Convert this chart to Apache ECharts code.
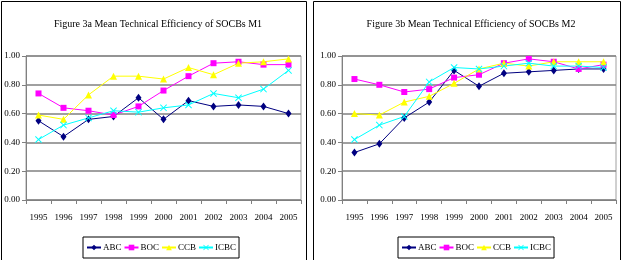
<!DOCTYPE html>
<html lang="en">
<head>
    <meta charset="UTF-8">
    <title>Mean Technical Efficiency of SOCBs</title>
    <script src="https://cdn.jsdelivr.net/npm/echarts@6/dist/echarts.min.js"></script>
    <style>
        body { margin: 0; background: #fff; }
    </style>
</head>
<body>
<div id="main" style="width: 623px;height:260px;"></div>
</body>
<script>
    var years = ['1995','1996','1997','1998','1999','2000','2001','2002','2003','2004','2005'];
    var banks = ['ABC','BOC','CCB','ICBC'];
    var yTicks = [0, 0.2, 0.4, 0.6, 0.8, 1.0];

    // Figure 3a, model M1
    var abcM1  = [0.55, 0.44, 0.56, 0.58, 0.71, 0.56, 0.69, 0.65, 0.66, 0.65, 0.60];
    var bocM1  = [0.74, 0.64, 0.62, 0.59, 0.65, 0.76, 0.86, 0.95, 0.96, 0.94, 0.94];
    var ccbM1  = [0.59, 0.56, 0.73, 0.86, 0.86, 0.84, 0.92, 0.87, 0.95, 0.96, 0.98];
    var icbcM1 = [0.42, 0.52, 0.57, 0.62, 0.61, 0.64, 0.66, 0.74, 0.71, 0.77, 0.90];

    // Figure 3b, model M2
    var abcM2  = [0.33, 0.39, 0.57, 0.68, 0.90, 0.79, 0.88, 0.89, 0.90, 0.91, 0.91];
    var bocM2  = [0.84, 0.80, 0.75, 0.77, 0.85, 0.87, 0.95, 0.98, 0.96, 0.91, 0.94];
    var ccbM2  = [0.60, 0.59, 0.68, 0.72, 0.81, 0.91, 0.95, 0.93, 0.96, 0.96, 0.96];
    var icbcM2 = [0.42, 0.52, 0.58, 0.82, 0.92, 0.91, 0.93, 0.95, 0.93, 0.93, 0.92];

    var font = 'Liberation Serif';
    var colors = {ABC: '#000080', BOC: '#FF00FF', CCB: '#FFFF00', ICBC: '#00FFFF'};
    var symbols = {
        ABC: 'diamond',
        BOC: 'rect',
        CCB: 'triangle',
        ICBC: 'path://M0,1L1,0L5,4L9,0L10,1L6,5L10,9L9,10L5,6L1,10L0,9L4,5Z'
    };
    var sizes = {ABC: [6, 8], BOC: 6, CCB: 7, ICBC: 7};

    function makeXAxis(idx) {
        return {
            type: 'category', gridIndex: idx, data: years, boundaryGap: true,
            axisLine: {lineStyle: {color: '#808080', width: 1}},
            axisTick: {show: true, length: 4, lineStyle: {color: '#808080'}},
            axisLabel: {color: '#000', fontFamily: font, fontSize: 9, margin: 13}
        };
    }
    function makeYAxis(idx) {
        return {
            type: 'value', gridIndex: idx, min: yTicks[0], max: yTicks[yTicks.length - 1], interval: 0.2,
            axisLine: {show: true, lineStyle: {color: '#808080', width: 1}},
            axisTick: {show: true, length: 4, lineStyle: {color: '#808080'}},
            splitLine: {lineStyle: {color: '#808080', width: 1.5}},
            axisLabel: {color: '#000', fontFamily: font, fontSize: 9, margin: 6,
                formatter: function (v) { return v.toFixed(2); }}
        };
    }
    function makeSeries(name, data, idx) {
        return {
            name: name, type: 'line', xAxisIndex: idx, yAxisIndex: idx, data: data,
            symbol: symbols[name], symbolSize: sizes[name], showSymbol: true,
            lineStyle: {color: colors[name], width: 1},
            itemStyle: {color: colors[name]},
            emphasis: {disabled: true}, animation: false
        };
    }
    function makeLegend(left) {
        return {
            data: banks, left: left, top: 237, orient: 'horizontal',
            selectedMode: false, borderColor: '#000', borderWidth: 1,
            padding: [6, 3], itemGap: 2, itemWidth: 14, itemHeight: 7,
            textStyle: {color: '#000', fontFamily: font, fontSize: 9, padding: [0, 0, 0, -3]}
        };
    }

    var myChart = echarts.init(document.getElementById('main'));
    var option = {
        backgroundColor: '#fff',
        animation: false,
        title: [
            {text: 'Figure 3a Mean Technical Efficiency of SOCBs M1', left: 153, top: 14, textAlign: 'center',
                textStyle: {fontFamily: font, fontSize: 10, fontWeight: 'normal', color: '#000'}},
            {text: 'Figure 3b Mean Technical Efficiency of SOCBs M2', left: 466, top: 14, textAlign: 'center',
                textStyle: {fontFamily: font, fontSize: 10, fontWeight: 'normal', color: '#000'}}
        ],
        legend: [makeLegend(83), makeLegend(398)],
        grid: [
            {left: 26, top: 56, width: 275, height: 144, show: true, borderColor: '#a0a0a0', borderWidth: 1},
            {left: 342, top: 56, width: 274, height: 144, show: true, borderColor: '#a0a0a0', borderWidth: 1}
        ],
        xAxis: [makeXAxis(0), makeXAxis(1)],
        yAxis: [makeYAxis(0), makeYAxis(1)],
        series: [
            makeSeries('ABC', abcM1, 0), makeSeries('BOC', bocM1, 0),
            makeSeries('CCB', ccbM1, 0), makeSeries('ICBC', icbcM1, 0),
            makeSeries('ABC', abcM2, 1), makeSeries('BOC', bocM2, 1),
            makeSeries('CCB', ccbM2, 1), makeSeries('ICBC', icbcM2, 1)
        ],
        graphic: [
            {type: 'rect', shape: {x: 1.5, y: 1.5, width: 305, height: 280},
                style: {fill: 'none', stroke: '#000', lineWidth: 1}, silent: true},
            {type: 'rect', shape: {x: 313.5, y: 1.5, width: 307, height: 280},
                style: {fill: 'none', stroke: '#000', lineWidth: 1}, silent: true}
        ]
    };
    myChart.setOption(option);
</script>
</html>
